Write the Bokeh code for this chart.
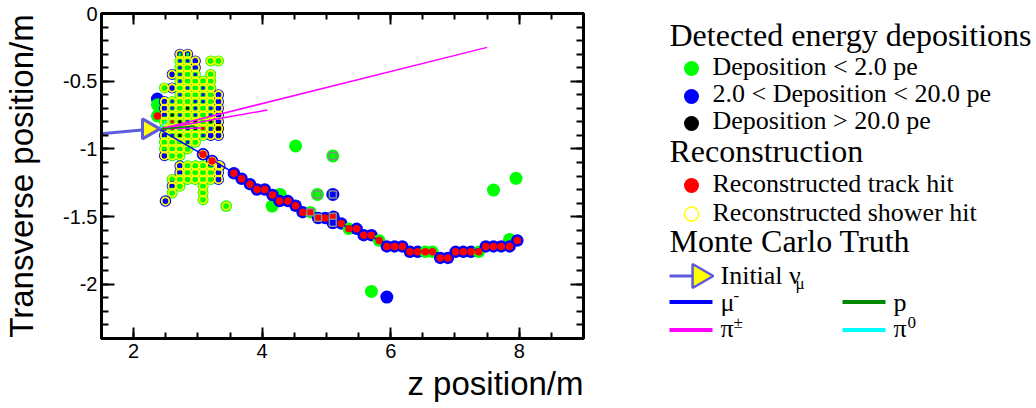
import numpy as np
from bokeh.plotting import figure
from bokeh.layouts import row
from bokeh.models import Range1d, LinearAxis, FixedTicker, CustomJSTickFormatter, Title
from bokeh.embed import file_html
from bokeh.resources import INLINE
from bokeh.core.properties import value

# ---------------- data ----------------
x_major = [2, 4, 6, 8]
y_major = [0, -0.5, -1, -1.5, -2]

# shower cluster: grid columns (z) and rows (y); per-row strings: outer deposition colour / inner core colour
clu_cols = [2.36, 2.48, 2.60, 2.72, 2.84, 2.96, 3.08, 3.20, 3.32]
clu_rows = [-0.30, -0.35, -0.40, -0.45, -0.50, -0.55, -0.60, -0.65, -0.70, -0.75, -0.80,
            -0.85, -0.90, -0.95, -1.00, -1.05, -1.125, -1.175, -1.225, -1.275, -1.325, -1.375]
clu_outer = ["...bb....", "...ggb.gg", "...ggb...", "..bggg.g.", "...ggggg.", ".gbggggg.",
             "...gggggb", ".bggggggb", ".bggggggb", ".bggggggb", ".gggggggb", ".gggggggk",
             ".bgggggbb", ".ggggg...", ".gggg....", ".bgg.....", "...bggggb", "...bggggb",
             "..ggggggb", "..bg..g..", "..g...g..", "......g.."]
clu_core = ["...gg....", "...bb....", "...b.b...", "...b.b...", "...b.....", "....b.b..",
            "...b..b..", "..b..bb..", "..b.kb.b.", "..kb.b.b.", "..rkbk.k.", ".rr.bkrb.",
            "..bk..b..", "....b....", ".........", ".........", ".........", ".........",
            ".........", ".........", ".........", "........."]

# extra shower hits outside the grid
shw_z = [2.495, 3.44, 3.08, 3.22, 3.34]
shw_y = [-1.385, -1.422, -1.04, -1.09, -1.126]
shw_dep = ["b", "g", "b", "b", "b"]

# muon track hits (reconstructed track)
trk_z = [3.08, 3.22, 3.56, 3.68, 3.81, 3.92, 4.04, 4.16, 4.27, 4.40, 4.52, 4.63, 4.75, 4.87,
         4.98, 5.11, 5.23, 5.35, 5.47, 5.58, 5.70, 5.82, 5.94, 6.06, 6.18, 6.30, 6.42, 6.54,
         6.65, 6.77, 6.89, 7.01, 7.13, 7.25, 7.37, 7.48, 7.60, 7.72, 7.85, 7.97]
trk_y = [-1.04, -1.09, -1.18, -1.22, -1.26, -1.30, -1.30, -1.34, -1.385, -1.385, -1.42, -1.467,
         -1.467, -1.51, -1.51, -1.50, -1.55, -1.59, -1.59, -1.637, -1.637, -1.676, -1.72, -1.72,
         -1.72, -1.76, -1.76, -1.76, -1.76, -1.805, -1.805, -1.76, -1.76, -1.76, -1.76, -1.72,
         -1.72, -1.72, -1.72, -1.676]
trk_dep = ["b", "b", "b", "b", "b", "b", "b", "b", "b", "b", "b", "b", "g", "b",
           "b", "b", "b", "g", "b", "b", "b", "g", "b", "b", "b", "b", "b", "g",
           "g", "b", "b", "b", "b", "b", "g", "b", "b", "b", "b", "b"]

# other isolated deposits
iso_z = [4.52, 7.60, 7.95, 5.70, 5.94, 4.28, 4.155, 7.85, 4.86, 5.10, 5.10, 5.10, 2.37, 2.37, 2.37]
iso_y = [-0.978, -1.304, -1.217, -2.052, -2.094, -1.336, -1.422, -1.668, -1.336, -1.336,
         -1.052, -1.545, -0.632, -0.674, -0.756]
iso_dep = ["g", "g", "g", "g", "b", "g", "g", "g", "g", "b", "g", "b", "b", "g", "g"]

# extra reconstructed track hit near vertex
rtx_z = [2.37]
rtx_y = [-0.756]

# hits seen in other view (grey squares)
sq_z = [4.75, 4.87, 5.10, 5.10, 4.86, 5.10, 5.10]
sq_y = [-1.467, -1.509, -1.50, -1.545, -1.336, -1.336, -1.052]
sq_c = ["r", "r", "r", "b", "g", "b", "g"]

# Monte Carlo truth
mu_z = [2.40, 3.0, 3.5, 4.0, 4.5, 5.0, 5.5, 6.0, 6.5, 7.0, 7.5, 7.97]
mu_y = [-0.855, -1.02, -1.16, -1.30, -1.41, -1.51, -1.61, -1.71, -1.76, -1.78, -1.72, -1.676]
pi_z = [[2.40, 7.50], [2.40, 4.08], [2.40, 3.05]]
pi_y = [[-0.855, -0.25], [-0.855, -0.713], [-0.852, -0.845]]
p_z = [2.40, 2.95]
p_y = [-0.855, -0.83]
pi0_z = [2.40, 2.52]
pi0_y = [-0.855, -0.79]
nu_z = [1.41, 2.30]
nu_y = [-0.891, -0.853]
nu_head_z = [2.228]
nu_head_y = [-0.852]

COL = {"g": "#00ff00", "b": "#0000ff", "k": "#000000", "r": "#ff0000"}
NU = "#5c5cdc"

# ---------------- build cluster columns ----------------
cz, cy, cc, kz, ky, kc = [], [], [], [], [], []
for yv, outer, core in zip(clu_rows, clu_outer, clu_core):
    for i, ch in enumerate(outer):
        if ch != ".":
            cz.append(clu_cols[i]); cy.append(yv); cc.append(COL[ch])
        if core[i] != ".":
            kz.append(clu_cols[i]); ky.append(yv); kc.append(COL[core[i]])

# ---------------- main figure ----------------
BORDERS = dict(min_border_top=13, min_border_bottom=70)
p = figure(width=620, height=408, x_range=Range1d(1.5, 9), y_range=Range1d(-2.4, 0),
           output_backend="svg", toolbar_location=None,
           x_axis_location=None, y_axis_location=None,
           min_border_left=101, min_border_right=37, **BORDERS)
p.background_fill_color = "white"
p.border_fill_color = "white"
p.outline_line_color = "black"
p.outline_line_width = 3
p.xgrid.visible = False
p.ygrid.visible = False

fmt = CustomJSTickFormatter(code="return tick.toString();")
x_minor = [round(v, 2) for v in np.arange(1.5, 9.01, 0.5)]
y_minor = [round(v, 2) for v in np.arange(-2.4, 0.001, 0.1)]


def base_axis(ax):
    ax.major_tick_out = 0
    ax.minor_tick_out = 0
    ax.axis_line_width = 3
    ax.axis_line_color = "black"
    ax.major_tick_line_width = 2
    ax.minor_tick_line_width = 2
    ax.major_tick_line_color = "black"
    ax.minor_tick_line_color = "black"
    ax.axis_label_standoff = 0
    return ax


def labelled_axis(kind, side):
    ax = base_axis(LinearAxis())
    if kind == "x":
        ax.ticker = FixedTicker(ticks=x_major, minor_ticks=x_minor)
        ax.major_tick_in, ax.minor_tick_in = 11, 6
    else:
        ax.ticker = FixedTicker(ticks=y_major, minor_ticks=y_minor)
        ax.major_tick_in, ax.minor_tick_in = 13, 7
    ax.formatter = fmt
    ax.major_label_text_font = "Liberation Sans"
    ax.major_label_text_font_size = "20px"
    ax.major_label_text_color = "black"
    ax.major_label_standoff = 4
    p.add_layout(ax, side)
    return ax


def tick_only_axes(kind, side):
    # opposite side: ticks without labels (two stacked zero-size axes)
    majors = x_major if kind == "x" else y_major
    minors = x_minor if kind == "x" else y_minor
    lens = (11, 6) if kind == "x" else (13, 7)
    for ticks, ln in ((minors, lens[1]), (majors, lens[0])):
        ax = base_axis(LinearAxis())
        ax.ticker = FixedTicker(ticks=[], minor_ticks=ticks)
        ax.major_tick_in = 0
        ax.minor_tick_in = ln
        ax.major_label_standoff = 0
        p.add_layout(ax, side)


xb = labelled_axis("x", "below")
xb.major_label_standoff = 5
# x-axis title, right-aligned at the end of the axis (ROOT style)
p.add_layout(Title(text="z position/m", align="right", text_font="Liberation Sans",
                   text_font_size="33px", text_font_style="normal", text_color="black",
                   standoff=5), "below")

yl = labelled_axis("y", "left")
yl.axis_label = "Transverse position/m"
yl.axis_label_text_font = "Liberation Sans"
yl.axis_label_text_font_size = "33px"
yl.axis_label_text_font_style = "normal"
yl.axis_label_text_color = "black"
yl.axis_label_standoff = 20

tick_only_axes("x", "above")
tick_only_axes("y", "right")

# outer deposition circles
p.scatter(x=iso_z, y=iso_y, size=13, marker="circle",
          fill_color=[COL[c] for c in iso_dep], line_color=None)
p.scatter(x=trk_z, y=trk_y, size=12.5, marker="circle",
          fill_color=[COL[c] for c in trk_dep], line_color=None)
p.scatter(x=cz, y=cy, size=11, marker="circle", fill_color=cc, line_color=None)
p.scatter(x=shw_z, y=shw_y, size=11.5, marker="circle",
          fill_color=[COL[c] for c in shw_dep], line_color=None)
# shower rings
p.scatter(x=cz + shw_z, y=cy + shw_y, size=7.5, marker="circle", fill_color=None,
          line_color="#ffff00", line_width=1.8)
# inner cores
p.scatter(x=kz, y=ky, size=3, marker="square", fill_color=kc, line_color=None)

# MC truth lines
p.multi_line(xs=pi_z, ys=pi_y, line_color="#ff00ff", line_width=1.5)
p.line(x=p_z, y=p_y, line_color="#008800", line_width=1.5)
p.line(x=pi0_z, y=pi0_y, line_color="#00ffff", line_width=1.5)
p.line(x=mu_z, y=mu_y, line_color="#0000ff", line_width=1.5)

# reconstructed track hits
p.scatter(x=trk_z + rtx_z, y=trk_y + rtx_y, size=7.5, marker="circle",
          fill_color="#ff0000", line_color=None)
# other-view squares
p.scatter(x=sq_z, y=sq_y, size=7, marker="square", fill_color=[COL[c] for c in sq_c],
          line_color="#888888", line_width=1.5)

# initial neutrino arrow
p.line(x=nu_z, y=nu_y, line_color=NU, line_width=3)
p.scatter(x=nu_head_z, y=nu_head_y, size=20, marker="triangle", angle=-np.pi / 2,
          fill_color="#ffff00", line_color=NU, line_width=3)

# ---------------- legend figure (data units = page pixels) ----------------
leg = figure(width=416, height=408, x_range=Range1d(620, 1036), y_range=Range1d(338, 13),
             output_backend="svg", toolbar_location=None,
             x_axis_location=None, y_axis_location=None,
             min_border_left=0, min_border_right=0, **BORDERS)
leg.outline_line_color = None
leg.xgrid.visible = False
leg.ygrid.visible = False

SERIF = value("Liberation Serif")


def leg_text(xs, ys, txt, size):
    # text glyph anchor sits ~0.34 em below the requested alphabetic baseline; compensate
    off = 0.34 * size
    leg.text(x=xs, y=[v - off for v in ys], text=txt, text_font=SERIF,
             text_font_size=f"{size}px", text_baseline="alphabetic", text_color="black")


head_txt = ["Detected energy depositions", "Reconstruction", "Monte Carlo Truth"]
leg_text([669, 669, 669], [45, 161.5, 251.5], head_txt, 32)

item_txt = ["Deposition < 2.0 pe", "2.0 < Deposition < 20.0 pe", "Deposition > 20.0 pe",
            "Reconstructed track hit", "Reconstructed shower hit"]
leg_text([712] * 5, [75, 102, 129, 191.5, 220.5], item_txt, 26)
leg.scatter(x=[691] * 4, y=[68, 96, 123, 185], size=15, marker="circle",
            fill_color=[COL["g"], COL["b"], COL["k"], COL["r"]], line_color=None)
leg.scatter(x=[691], y=[213.5], size=14, marker="circle", fill_color=None,
            line_color="#ffff00", line_width=1.5)

# MC truth legend
leg.line(x=[669, 693], y=[275.5, 275.5], line_color=NU, line_width=3)
leg.scatter(x=[699], y=[275.5], size=24, marker="triangle", angle=-np.pi / 2,
            fill_color="#ffff00", line_color=NU, line_width=2.5)
leg_text([720, 720, 720, 893, 893], [283.5, 310.5, 337, 310.5, 337],
         ["Initial ν", "μ", "π", "p", "π"], 26)
leg_text([795, 733, 733, 907], [289, 301, 328, 328], ["μ", "-", "±", "0"], 17)
leg.multi_line(xs=[[669, 712], [669, 712], [842, 885], [842, 885]],
               ys=[[301.5, 301.5], [329.5, 329.5], [301.5, 301.5], [329.5, 329.5]],
               line_color=["#0000ff", "#ff00ff", "#008800", "#00ffff"], line_width=4)

layout = row(p, leg)
open("out.html", "w").write(file_html(layout, INLINE))
